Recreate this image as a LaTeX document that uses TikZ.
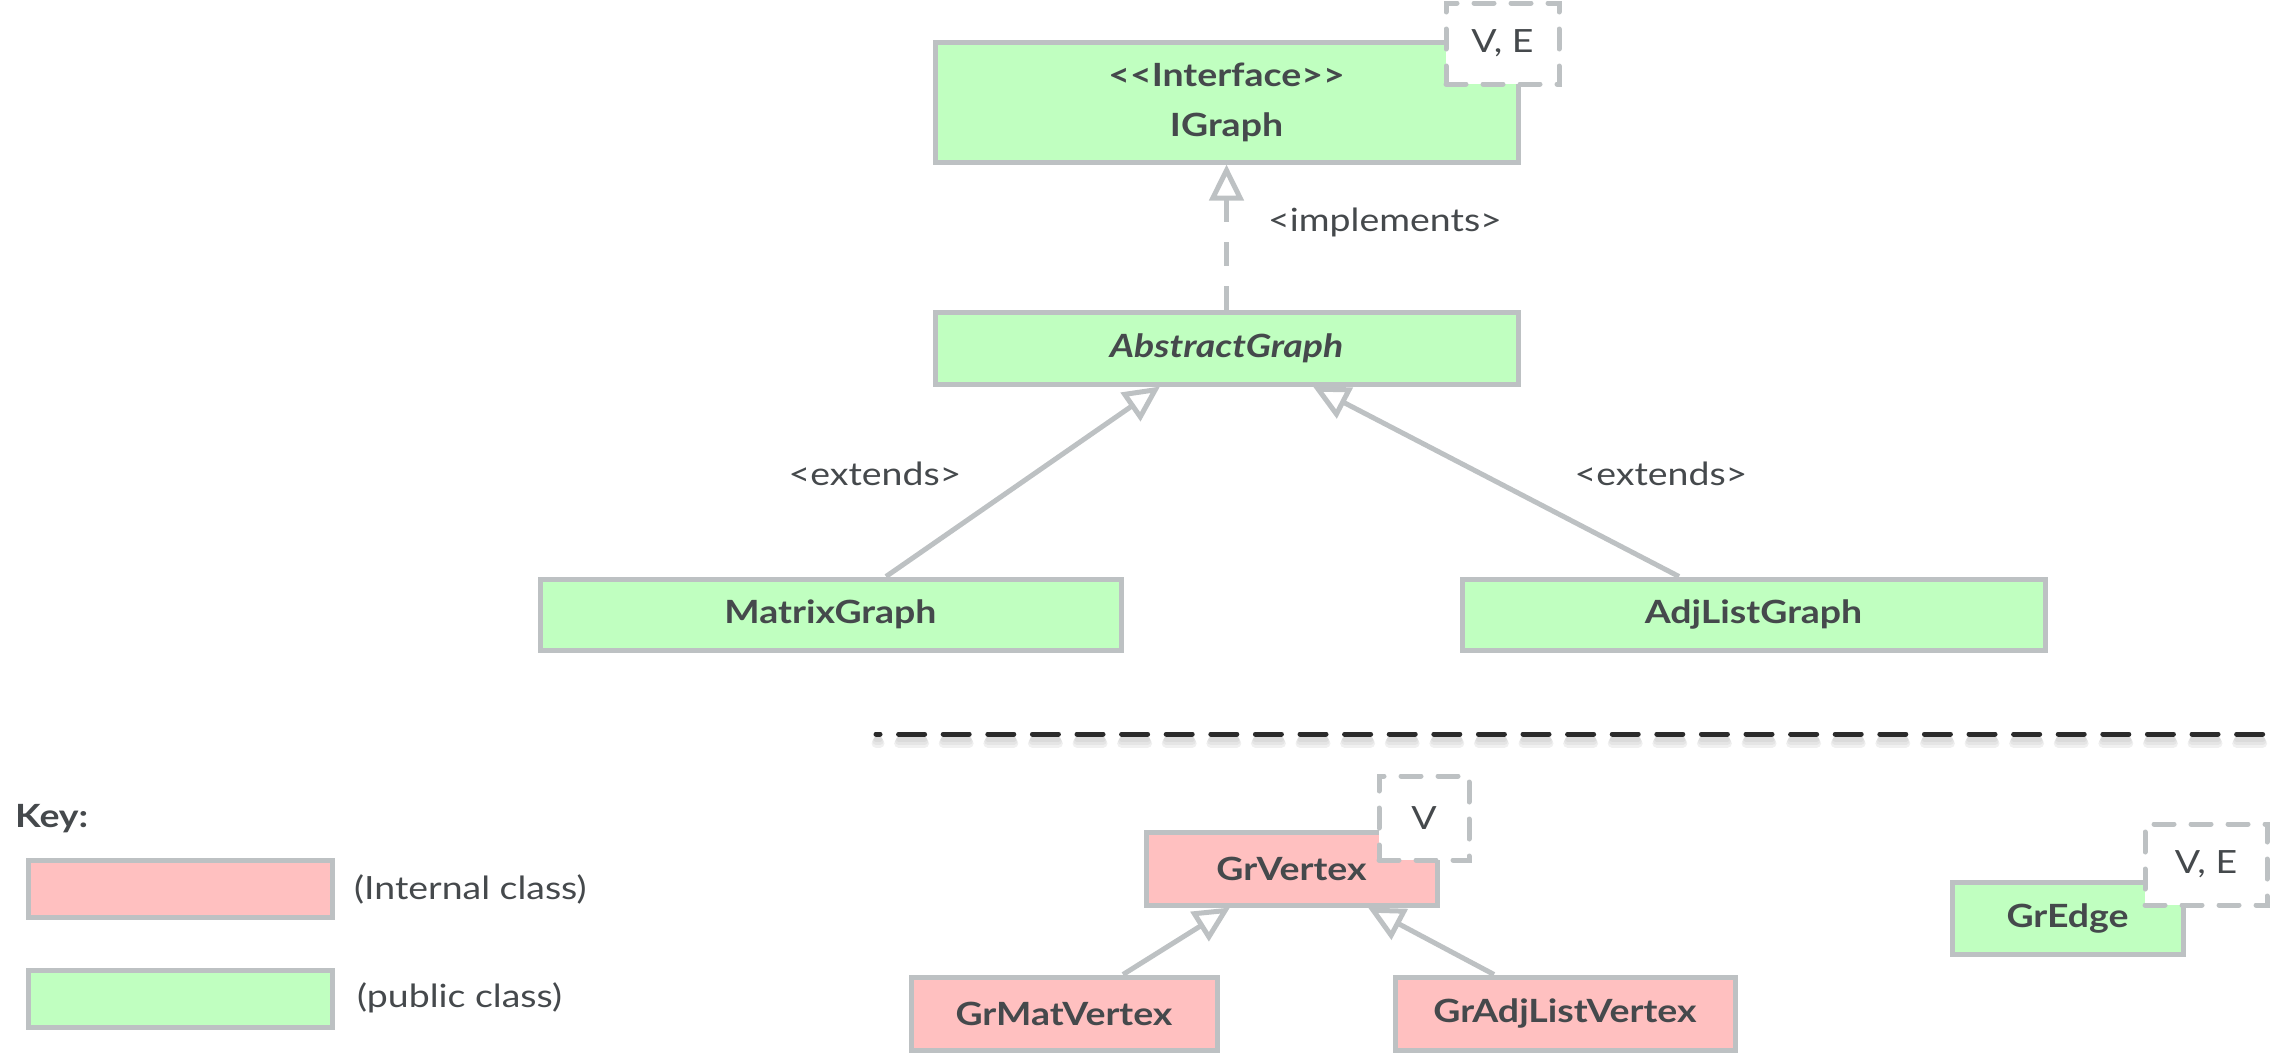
\documentclass[tikz,border=0pt]{standalone}
\usepackage{fontspec}
\setmainfont{Lato}[FakeStretch=1.17]
\usetikzlibrary{arrows.meta}
\definecolor{bord}{HTML}{BDC1C3}
\definecolor{gfill}{HTML}{C0FFC0}
\definecolor{pfill}{HTML}{FFC0C0}
\definecolor{txt}{HTML}{45494C}
\definecolor{sepblk}{HTML}{2B2B2B}
\begin{document}
\begin{tikzpicture}[x=1pt,y=-1pt,
  cls/.style={draw=bord, line width=5pt, text=txt, inner sep=0pt,
    font=\fontsize{32}{50}\selectfont\bfseries, align=center},
  pub/.style={cls, fill=gfill},
  intl/.style={cls, fill=pfill},
  param/.style={draw=bord, fill=white, line width=5pt, dash pattern=on 20pt off 17pt,
    line cap=round, text=txt, inner sep=0pt, font=\fontsize{32}{36}\selectfont},
  lbl/.style={text=txt, inner sep=0pt, font=\fontsize{32}{36}\selectfont},
  inh/.style={draw=bord, line width=5pt, -{Triangle[open, length=36pt, width=34pt]}},
  impl/.style={inh, dash pattern=on 24pt off 20pt}
]
\useasboundingbox (0,0) rectangle (2274,1055);

% classes
\node[pub, minimum width=583pt, minimum height=120pt] (ig) at (1226.5,102)
  {<\kern0pt<Interface>\kern0pt>\\IGraph};
\node[param, minimum width=113pt, minimum height=81pt] (igp) at (1502.5,43.5) {V, E};
\node[pub, minimum width=583pt, minimum height=72pt] (ag) at (1226.5,348)
  {\itshape AbstractGraph};
\node[pub, minimum width=581pt, minimum height=71pt] (mg) at (830.5,614.5) {MatrixGraph};
\node[pub, minimum width=583pt, minimum height=71pt] (alg) at (1753.5,614.5) {AdjListGraph};

\node[intl, minimum width=291pt, minimum height=73pt] (gv) at (1291.5,868.5) {GrVertex};
\node[param, minimum width=90pt, minimum height=84pt] (gvp) at (1424,818) {V};
\node[intl, minimum width=306pt, minimum height=73pt] (gmv) at (1064,1013.5) {GrMatVertex};
\node[intl, minimum width=340pt, minimum height=73pt] (gav) at (1565,1013.5) {GrAdjListVertex};

\node[pub, minimum width=231pt, minimum height=72pt] (ge) at (2067.5,918) {GrEdge};
\node[param, minimum width=122pt, minimum height=81pt] (gep) at (2206,864.5) {V, E};

% connectors
\draw[impl] (ag.north) -- (ig.south);
\node[lbl] (limpl) at (1385,222) {<implements>};
\draw[inh] ([xshift=55.5pt]mg.north) -- ([xshift=-66.5pt]ag.south);
\draw[inh] ([xshift=-74.5pt]alg.north) -- ([xshift=86.5pt]ag.south);
\node[lbl] (lext1) at (875,474) {<extends>};
\node[lbl] (lext2) at (1661,474) {<extends>};
\draw[inh] ([xshift=59pt]gmv.north) -- ([xshift=-61.5pt]gv.south);
\draw[inh] ([xshift=-71pt]gav.north) -- ([xshift=76.5pt]gv.south);

% separator
\coordinate (s1) at (876,734);
\coordinate (s2) at (2274,734);
\foreach \o/\w/\c in {9/9/6, 7/7/10, 5/5/14}{
  \draw[line width=\w pt, black!\c, line cap=round, dash pattern=on 26pt off 18.6pt, dash phase=22pt]
    ([yshift=-\o pt]s1) -- ([yshift=-\o pt]s2);
}
\draw[line width=5pt, sepblk, line cap=round, dash pattern=on 26pt off 18.6pt, dash phase=22pt]
  (s1) -- (s2);

% key
\node[lbl, anchor=west, font=\fontsize{32}{36}\selectfont\bfseries] (key) at (15,819) {Key:};
\node[cls, fill=pfill, minimum width=304pt, minimum height=57pt] (kp) at (180,888.5) {};
\node[lbl, anchor=west] (kpl) at (354,889) {(Internal class)};
\node[cls, fill=gfill, minimum width=304pt, minimum height=57pt] (kg) at (180,998.5) {};
\node[lbl, anchor=west] (kgl) at (357,998) {(public class)};
\end{tikzpicture}
\end{document}
